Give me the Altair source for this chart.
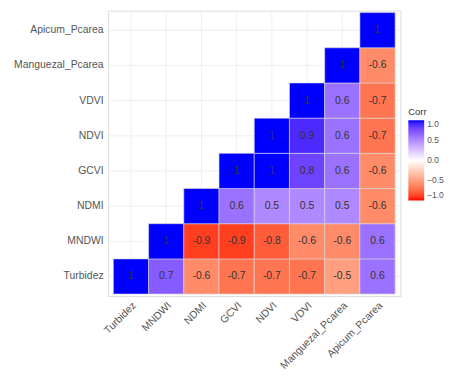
import altair as alt
import pandas as pd

variables = ["Turbidez", "MNDWI", "NDMI", "GCVI", "NDVI", "VDVI", "Manguezal_Pcarea", "Apicum_Pcarea"]

# lower-triangle correlations: row variable -> values for columns from itself to the end
row_turbidez = [1, 0.7, -0.6, -0.7, -0.7, -0.7, -0.5, 0.6]
row_mndwi = [1, -0.9, -0.9, -0.8, -0.6, -0.6, 0.6]
row_ndmi = [1, 0.6, 0.5, 0.5, 0.5, -0.6]
row_gcvi = [1, 1, 0.8, 0.6, -0.6]
row_ndvi = [1, 0.9, 0.6, -0.7]
row_vdvi = [1, 0.6, -0.7]
row_manguezal = [1, -0.6]
row_apicum = [1]

rows = [row_turbidez, row_mndwi, row_ndmi, row_gcvi, row_ndvi, row_vdvi, row_manguezal, row_apicum]

records = []
for i, vals in enumerate(rows):
    for k, v in enumerate(vals):
        j = i + k
        records.append({"Var1": variables[j], "Var2": variables[i], "Corr": v,
                        "label": str(v) if v != 1 else "1"})
df = pd.DataFrame(records)
grid_df = pd.DataFrame({"Var1": variables, "Var2": variables})

xscale = alt.Scale(domain=variables, paddingInner=0, paddingOuter=0.15)
yscale = alt.Scale(domain=variables[::-1], paddingInner=0, paddingOuter=0.056)

xaxis = alt.Axis(labelAngle=-45, labelAlign="right", labelBaseline="top",
                 labelFontSize=10.5, labelColor="#555555", labelPadding=4,
                 ticks=False, domain=False, grid=False)
yaxis = alt.Axis(labelFontSize=10.5, labelColor="#555555", labelPadding=5,
                 ticks=False, domain=False, grid=False)

vgrid = alt.Chart(grid_df).mark_rule(color="#ebebeb", strokeWidth=0.8).encode(
    x=alt.X("Var1:N", scale=xscale, title=None, axis=xaxis))
hgrid = alt.Chart(grid_df).mark_rule(color="#ebebeb", strokeWidth=0.8).encode(
    y=alt.Y("Var2:N", scale=yscale, title=None, axis=yaxis))

base = alt.Chart(df).encode(
    x=alt.X("Var1:N", scale=xscale, title=None, axis=xaxis),
    y=alt.Y("Var2:N", scale=yscale, title=None, axis=yaxis),
)

rects = base.mark_rect(stroke="#d9d9d9", strokeWidth=0.6).encode(
    color=alt.Color("Corr:Q",
                    scale=alt.Scale(domain=[-1, 0, 1], range=["#FF0000", "#FFFFFF", "#0000FF"],
                                    interpolate="lab"),
                    legend=alt.Legend(title="Corr", values=[1.0, 0.5, 0.0, -0.5, -1.0], format=".1f",
                                      orient="none", legendX=303, legendY=97,
                                      gradientLength=81, gradientThickness=16,
                                      gradientStrokeWidth=0, padding=0,
                                      titleFontSize=9.5, titleFontWeight="normal", titleColor="#333333",
                                      titlePadding=4,
                                      labelFontSize=8.5, labelColor="#555555", labelOffset=3))
)

texts = base.mark_text(fontSize=10.5, color="#333333").encode(text="label:N")

chart = (vgrid + hgrid + rects + texts).properties(width=295, height=288).configure_view(stroke=None).configure(
    font="Liberation Sans", padding={"left": 5, "top": 0, "right": 0, "bottom": 0}
)

chart.save("out.html", embed_options={"renderer": "svg", "actions": False})
